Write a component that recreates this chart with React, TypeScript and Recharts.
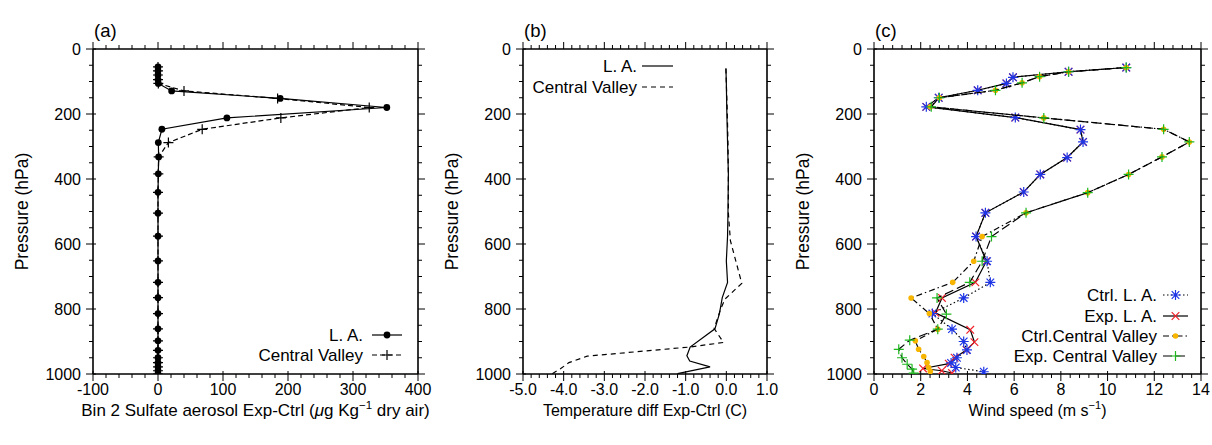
import React from "react";
import { ScatterChart, Scatter, XAxis, YAxis, Legend } from "recharts";

const FONT = '"Liberation Sans", Arial, Helvetica, sans-serif';
const INK = "#000";
const W = 1212;
const H = 445;
const PLOT_TOP = 49;
const PLOT_BOTTOM = 374;

// ---- panel (a): sulfate aerosol difference ----
const LEVELS_A = [55, 67, 80, 94, 106, 129, 152, 180, 212, 247, 288, 332, 384, 441, 505, 576, 652, 718, 765, 814, 861, 898, 927, 950, 965, 978, 990, 1000];
const SULFATE_LA = [0, 0, 0, 0, 0.5, 21, 188, 352, 106, 6, 0.5, 1, 0.5, 0, 0, 0, 0, 0, 0, 0, 0, 0, 0, 0, 0, 0, 0, 0];
const SULFATE_CV = [0, 0, 0, 0, 0.5, 40, 184, 325, 189, 68, 16, 1, 0.5, 0, 0, 0, 0, 0, 0, 0, 0, 0, 0, 0, 0, 0, 0, 0];

// ---- panel (b): temperature difference ----
const LEVELS_B_LA = [60, 106, 180, 288, 384, 505, 576, 652, 718, 765, 814, 861, 917, 944, 960, 978, 999];
const TEMP_LA = [-0.01, 0.0, 0.01, 0.03, 0.05, 0.04, 0.03, 0.0, 0.03, -0.1, -0.17, -0.28, -0.89, -0.97, -0.9, -0.4, -1.2];
const LEVELS_B_CV = [60, 106, 180, 288, 384, 505, 590, 721, 769, 800, 860, 903, 917, 945, 965, 984, 999];
const TEMP_CV = [-0.01, 0.0, 0.02, 0.04, 0.05, 0.05, 0.1, 0.38, -0.03, -0.14, -0.3, -0.07, -0.9, -3.42, -3.87, -4.08, -4.28];

// ---- panel (c): wind speed ----
const LEVELS_C_CTRL_LA = [57, 70, 87, 106, 127, 150, 178, 211, 248, 286, 334, 386, 440, 504, 577, 653, 718, 766, 814, 862, 900, 926, 950, 966, 980, 993];
const WIND_CTRL_LA = [10.8, 8.33, 5.95, 5.67, 4.44, 2.77, 2.24, 6.05, 8.84, 8.95, 8.27, 7.12, 6.41, 4.77, 4.37, 4.84, 4.98, 3.84, 2.5, 3.34, 3.84, 3.98, 3.55, 3.3, 3.5, 4.7];
const LEVELS_C_EXP_LA = [57, 70, 87, 106, 127, 150, 178, 211, 248, 286, 334, 386, 440, 504, 577, 653, 718, 766, 812, 864, 902, 926, 950, 968, 983, 990, 997];
const WIND_EXP_LA = [10.8, 8.33, 5.95, 5.67, 4.44, 2.77, 2.24, 6.05, 8.84, 8.95, 8.27, 7.12, 6.41, 4.77, 4.37, 4.81, 4.34, 2.91, 2.63, 4.12, 4.3, 3.96, 3.45, 3.2, 2.1, 2.9, 3.34];
const LEVELS_C_CTRL_CV = [57, 70, 85, 104, 127, 150, 178, 212, 247, 286, 332, 386, 442, 504, 577, 653, 718, 766, 814, 862, 898, 924, 946, 965, 980, 992];
const WIND_CTRL_CV = [10.8, 8.33, 7.09, 6.34, 5.2, 2.8, 2.41, 7.27, 12.4, 13.5, 12.33, 10.9, 9.15, 6.51, 4.63, 4.27, 3.37, 1.59, 2.37, 2.73, 1.77, 1.91, 2.13, 2.27, 2.34, 2.41];
const LEVELS_C_EXP_CV = [57, 70, 85, 104, 127, 150, 178, 212, 247, 286, 332, 386, 442, 504, 577, 653, 718, 766, 816, 862, 896, 924, 950, 970, 985, 997];
const WIND_EXP_CV = [10.8, 8.33, 7.09, 6.34, 5.2, 2.8, 2.45, 7.27, 12.4, 13.5, 12.33, 10.9, 9.15, 6.51, 5.03, 4.63, 4.1, 2.7, 3.1, 2.73, 1.53, 1.06, 1.2, 1.42, 1.63, 1.7];

// ---- axes ----
const P_MAJORS = [0, 200, 400, 600, 800, 1000];
const A_MAJORS = [-100, 0, 100, 200, 300, 400];
const B_MAJORS = [-5, -4, -3, -2, -1, 0, 1];
const C_MAJORS = [0, 2, 4, 6, 8, 10, 12, 14];

const BLUE = "#1d35e6";
const RED = "#f0202a";
const ORANGE = "#f7b500";
const GREEN = "#1eb81e";

type Pt = { x: number; y: number };
type MarkerKind = "none" | "dot" | "smalldot" | "plus" | "cross" | "star";

const pts = (levels: number[], values: number[]): Pt[] =>
  levels.map((p, i) => ({ x: values[i], y: p }));

function subdivide(majors: number[], n: number) {
  const out: number[] = [];
  for (let i = 0; i < majors.length - 1; i++) {
    const a = majors[i];
    const step = (majors[i + 1] - a) / n;
    for (let k = 0; k < n; k++) out.push(Math.round((a + k * step) * 1000) / 1000);
  }
  out.push(majors[majors.length - 1]);
  return out;
}

function Marker({ kind, cx, cy, color }: { kind: MarkerKind; cx: number; cy: number; color: string }) {
  if (cx == null || cy == null || kind === "none") return <g />;
  const s = 5;
  const d = 3.8;
  switch (kind) {
    case "dot":
      return <circle cx={cx} cy={cy} r={3.4} fill={color} />;
    case "smalldot":
      return <circle cx={cx} cy={cy} r={2.8} fill={color} />;
    case "plus":
      return (
        <path d={`M${cx - s} ${cy}H${cx + s}M${cx} ${cy - s}V${cy + s}`} stroke={color} strokeWidth={1.2} fill="none" />
      );
    case "cross":
      return (
        <path d={`M${cx - d} ${cy - d}L${cx + d} ${cy + d}M${cx - d} ${cy + d}L${cx + d} ${cy - d}`} stroke={color} strokeWidth={1.2} fill="none" />
      );
    case "star":
      return (
        <path
          d={`M${cx - s} ${cy}H${cx + s}M${cx} ${cy - s}V${cy + s}M${cx - d} ${cy - d}L${cx + d} ${cy + d}M${cx - d} ${cy + d}L${cx + d} ${cy - d}`}
          stroke={color}
          strokeWidth={1.2}
          fill="none"
        />
      );
  }
  return <g />;
}

type Side = "bottom" | "left" | "top" | "right";

function tickRenderer(side: Side, majors: number[], fmt?: (v: number) => string) {
  return (props: any) => {
    const { x, y, payload } = props;
    const v = Number(payload.value);
    const major = majors.some((m) => Math.abs(m - v) < 1e-6);
    const out = major ? 7 : 4;
    const inn = major && (side === "bottom" || side === "left") ? 3 : 0;
    let line: React.ReactNode = null;
    let label: React.ReactNode = null;
    if (side === "bottom") {
      line = <line x1={x} x2={x} y1={y - inn} y2={y + out} stroke={INK} strokeWidth={1} />;
      if (major && fmt)
        label = (
          <text x={x} y={y + 21} textAnchor="middle" fontSize={16} fontFamily={FONT} fill={INK}>
            {fmt(v)}
          </text>
        );
    } else if (side === "left") {
      line = <line x1={x - out} x2={x + inn} y1={y} y2={y} stroke={INK} strokeWidth={1} />;
      if (major && fmt)
        label = (
          <text x={x - 12} y={y} dy="0.35em" textAnchor="end" fontSize={16} fontFamily={FONT} fill={INK}>
            {fmt(v)}
          </text>
        );
    } else if (side === "top") {
      line = <line x1={x} x2={x} y1={y} y2={y - out} stroke={INK} strokeWidth={1} />;
    } else {
      line = <line x1={x} x2={x + out} y1={y} y2={y} stroke={INK} strokeWidth={1} />;
    }
    return (
      <g>
        {line}
        {label}
      </g>
    );
  };
}

type SeriesDef = {
  name: string;
  data: Pt[];
  dash?: string;
  marker: MarkerKind;
  color: string;
  width: number;
};

type LegendCfg = { textRight: number; x1: number; x2: number; rows: number[] };

type PanelDef = {
  tag: string;
  plotLeft: number;
  plotRight: number;
  xDomain: [number, number];
  xMajors: number[];
  xSub: number;
  xFmt: (v: number) => string;
  xTitle: React.ReactNode;
  xTitleSize: number;
  series: SeriesDef[];
  legendOrder: string[];
  legend: LegendCfg;
};

function LegendBox({ def }: { def: PanelDef }) {
  const { legend } = def;
  const items = def.legendOrder.map((n) => def.series.find((s) => s.name === n)!);
  return (
    <svg width={W} height={H} style={{ position: "absolute", left: 0, top: 0 }}>
      {items.map((s, i) => {
        const y = legend.rows[i];
        return (
          <g key={s.name}>
            <text x={legend.textRight} y={y} dy="0.35em" textAnchor="end" fontSize={17} fontFamily={FONT} fill={INK}>
              {s.name}
            </text>
            <line x1={legend.x1} x2={legend.x2} y1={y} y2={y} stroke={INK} strokeWidth={s.width} strokeDasharray={s.dash} />
            <Marker kind={s.marker} cx={(legend.x1 + legend.x2) / 2} cy={y} color={s.color} />
          </g>
        );
      })}
    </svg>
  );
}

function Panel({ def }: { def: PanelDef }) {
  const margin = {
    top: PLOT_TOP - 1,
    bottom: H - PLOT_BOTTOM - 40,
    left: def.plotLeft - 60,
    right: W - def.plotRight - 1,
  };
  const xTicks = subdivide(def.xMajors, def.xSub);
  const pTicks = subdivide(P_MAJORS, 4);
  const axisLine = { stroke: INK, strokeWidth: 1.6 };
  const midX = (def.plotLeft + def.plotRight) / 2;
  const midY = (PLOT_TOP + PLOT_BOTTOM) / 2;
  const yLabX = def.plotLeft - 71;
  return (
    <div style={{ position: "absolute", left: 0, top: 0 }}>
      <ScatterChart width={W} height={H} margin={margin}>
        <XAxis
          xAxisId="b"
          type="number"
          dataKey="x"
          domain={def.xDomain}
          allowDataOverflow
          ticks={xTicks}
          interval={0}
          tickSize={0}
          tickMargin={0}
          tickLine={false}
          axisLine={axisLine}
          height={40}
          tick={tickRenderer("bottom", def.xMajors, def.xFmt)}
          label={{
            content: () => (
              <text x={midX} y={416} textAnchor="middle" fontSize={def.xTitleSize} fontFamily={FONT} fill={INK}>
                {def.xTitle}
              </text>
            ),
          }}
        />
        <XAxis
          xAxisId="t"
          orientation="top"
          type="number"
          dataKey="x"
          domain={def.xDomain}
          allowDataOverflow
          ticks={xTicks}
          interval={0}
          tickSize={0}
          tickMargin={0}
          tickLine={false}
          axisLine={axisLine}
          height={1}
          tick={tickRenderer("top", def.xMajors)}
          label={{
            content: () => (
              <text x={def.plotLeft + 1} y={37} fontSize={18.5} fontFamily={FONT} fill={INK}>
                {def.tag}
              </text>
            ),
          }}
        />
        <YAxis
          yAxisId="l"
          type="number"
          dataKey="y"
          domain={[0, 1000]}
          reversed
          allowDataOverflow
          ticks={pTicks}
          interval={0}
          tickSize={0}
          tickMargin={0}
          tickLine={false}
          axisLine={axisLine}
          width={60}
          tick={tickRenderer("left", P_MAJORS, (v) => String(v))}
          label={{
            content: () => (
              <text
                x={yLabX}
                y={midY}
                textAnchor="middle"
                dominantBaseline="central"
                transform={`rotate(-90 ${yLabX} ${midY})`}
                fontSize={17.5}
                fontFamily={FONT}
                fill={INK}
              >
                Pressure (hPa)
              </text>
            ),
          }}
        />
        <YAxis
          yAxisId="r"
          orientation="right"
          type="number"
          dataKey="y"
          domain={[0, 1000]}
          reversed
          allowDataOverflow
          ticks={pTicks}
          interval={0}
          tickSize={0}
          tickMargin={0}
          tickLine={false}
          axisLine={axisLine}
          width={1}
          tick={tickRenderer("right", P_MAJORS)}
        />
        {def.series.map((s) => (
          <Scatter
            key={s.name}
            name={s.name}
            xAxisId="b"
            yAxisId="l"
            data={s.data}
            fill={s.color}
            line={{ stroke: INK, strokeWidth: s.width, strokeDasharray: s.dash }}
            lineType="joint"
            shape={(p: any) => <Marker kind={s.marker} cx={p.cx} cy={p.cy} color={s.color} />}
            isAnimationActive={false}
          />
        ))}
        <Legend
          layout="horizontal"
          verticalAlign="middle"
          align="center"
          wrapperStyle={{ left: 0, top: 0, width: W, height: H }}
          content={() => <LegendBox def={def} />}
        />
      </ScatterChart>
    </div>
  );
}

const PANEL_A: PanelDef = {
  tag: "(a)",
  plotLeft: 93,
  plotRight: 418,
  xDomain: [-100, 400],
  xMajors: A_MAJORS,
  xSub: 5,
  xFmt: (v) => String(v),
  xTitle: (
    <>
      <tspan>Bin 2 Sulfate aerosol Exp-Ctrl (</tspan>
      <tspan fontStyle="italic">μ</tspan>
      <tspan>g Kg</tspan>
      <tspan dy={-7} fontSize={11.5}>
        −1
      </tspan>
      <tspan dy={7}> dry air)</tspan>
    </>
  ),
  xTitleSize: 17,
  series: [
    { name: "L. A.", data: pts(LEVELS_A, SULFATE_LA), marker: "dot", color: INK, width: 1.2 },
    { name: "Central Valley", data: pts(LEVELS_A, SULFATE_CV), dash: "5 3", marker: "plus", color: INK, width: 1.2 },
  ],
  legendOrder: ["L. A.", "Central Valley"],
  legend: { textRight: 363, x1: 372, x2: 402, rows: [335, 355] },
};

const PANEL_B: PanelDef = {
  tag: "(b)",
  plotLeft: 523,
  plotRight: 767,
  xDomain: [-5, 1],
  xMajors: B_MAJORS,
  xSub: 5,
  xFmt: (v) => v.toFixed(1),
  xTitle: "Temperature diff Exp-Ctrl (C)",
  xTitleSize: 16,
  series: [
    { name: "L. A.", data: pts(LEVELS_B_LA, TEMP_LA), marker: "none", color: INK, width: 1.2 },
    { name: "Central Valley", data: pts(LEVELS_B_CV, TEMP_CV), dash: "5 4", marker: "none", color: INK, width: 1.2 },
  ],
  legendOrder: ["L. A.", "Central Valley"],
  legend: { textRight: 637, x1: 642, x2: 673, rows: [66, 87] },
};

const PANEL_C: PanelDef = {
  tag: "(c)",
  plotLeft: 874,
  plotRight: 1201,
  xDomain: [0, 14],
  xMajors: C_MAJORS,
  xSub: 5,
  xFmt: (v) => String(v),
  xTitle: (
    <>
      <tspan>Wind speed (m s</tspan>
      <tspan dy={-7} fontSize={11}>
        −1
      </tspan>
      <tspan dy={7}>)</tspan>
    </>
  ),
  xTitleSize: 16,
  series: [
    { name: "Exp. L. A.", data: pts(LEVELS_C_EXP_LA, WIND_EXP_LA), marker: "cross", color: RED, width: 1.2 },
    { name: "Ctrl. L. A.", data: pts(LEVELS_C_CTRL_LA, WIND_CTRL_LA), dash: "1.5 2.5", marker: "star", color: BLUE, width: 1.2 },
    { name: "Ctrl.Central Valley", data: pts(LEVELS_C_CTRL_CV, WIND_CTRL_CV), dash: "6 3 1.5 3", marker: "smalldot", color: ORANGE, width: 1.2 },
    { name: "Exp. Central Valley", data: pts(LEVELS_C_EXP_CV, WIND_EXP_CV), dash: "9 4", marker: "plus", color: GREEN, width: 1.2 },
  ],
  legendOrder: ["Ctrl. L. A.", "Exp. L. A.", "Ctrl.Central Valley", "Exp. Central Valley"],
  legend: { textRight: 1157, x1: 1163, x2: 1188, rows: [295, 316, 336, 356] },
};

export default function App() {
  return (
    <div style={{ position: "absolute", left: 0, top: 0, width: W, height: H, background: "#fff", fontFamily: FONT }}>
      <Panel def={PANEL_A} />
      <Panel def={PANEL_B} />
      <Panel def={PANEL_C} />
    </div>
  );
}
